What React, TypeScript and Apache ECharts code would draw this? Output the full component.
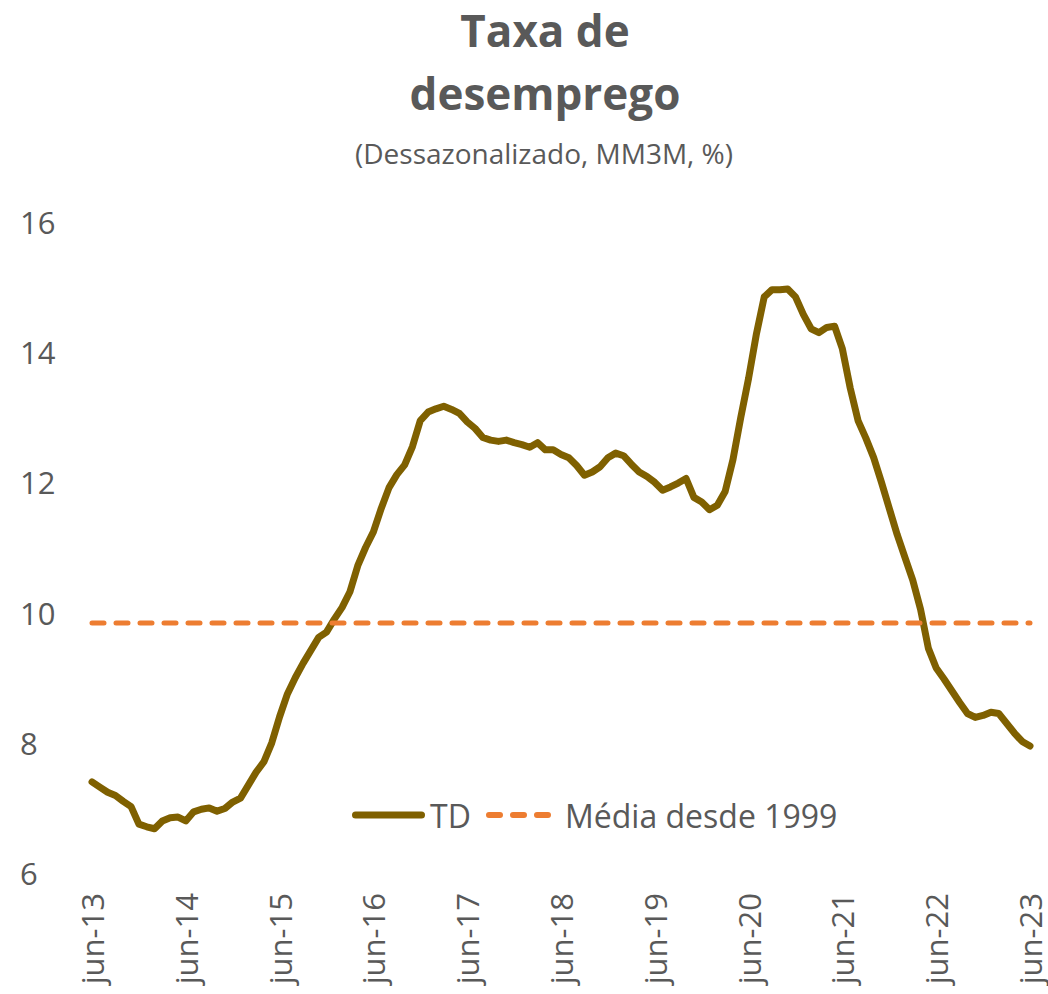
import React, { useEffect, useRef } from "react";
import * as echarts from "echarts";

const MONTHS = ["jan", "fev", "mar", "abr", "mai", "jun", "jul", "ago", "set", "out", "nov", "dez"];
// monthly categories jun-13 .. jun-23
const categories: string[] = [];
for (let y = 13; y <= 23; y++) {
  for (let m = 0; m < 12; m++) {
    if ((y === 13 && m < 5) || (y === 23 && m > 5)) continue;
    categories.push(`${MONTHS[m]}-${y}`);
  }
}

const td = [
  7.40, 7.32, 7.24, 7.19, 7.10, 7.02, 6.75, 6.71, 6.68, 6.80, 6.85, 6.86,
  6.80, 6.94, 6.98, 7.00, 6.95, 6.99, 7.09, 7.15, 7.35, 7.55, 7.71, 8.00,
  8.40, 8.75, 9.00, 9.22, 9.42, 9.62, 9.70, 9.90, 10.08, 10.32, 10.72, 11.00,
  11.24, 11.60, 11.92, 12.12, 12.27, 12.55, 12.95, 13.08, 13.13, 13.17, 13.12, 13.06,
  12.93, 12.83, 12.69, 12.65, 12.63, 12.65, 12.61, 12.58, 12.54, 12.61, 12.50, 12.50,
  12.43, 12.38, 12.26, 12.11, 12.16, 12.24, 12.38, 12.45, 12.41, 12.28, 12.16, 12.09,
  12.00, 11.88, 11.93, 11.99, 12.06, 11.77, 11.70, 11.58, 11.65, 11.86, 12.35, 13.00,
  13.60, 14.28, 14.85, 14.96, 14.96, 14.97, 14.85, 14.58, 14.36, 14.30, 14.38, 14.40,
  14.05, 13.45, 12.95, 12.68, 12.38, 12.00, 11.60, 11.20, 10.85, 10.50, 10.05, 9.45,
  9.15, 8.98, 8.80, 8.62, 8.45, 8.39, 8.42, 8.47, 8.45, 8.30, 8.15, 8.02,
  7.95,
];

const MEDIA_DESDE_1999 = 9.84;
const media = categories.map(() => MEDIA_DESDE_1999);

const SERIES_NAMES = ["TD", "Média desde 1999"];
const yTicks = { min: 6, max: 16, interval: 2 };

const GRAY = "#595959";
const BROWN = "#7F6000";
const ORANGE = "#ED7D31";
const FONT = "'Open Sans', 'Noto Sans', sans-serif";

export default function App() {
  const ref = useRef<HTMLDivElement>(null);
  useEffect(() => {
    if (!ref.current) return;
    const chart = echarts.init(ref.current, undefined, { renderer: "svg" });
    const legendY = 815;
    chart.setOption({
      animation: false,
      backgroundColor: "#ffffff",
      textStyle: { fontFamily: FONT },
      title: [
        {
          text: "Taxa de\ndesemprego",
          left: 545,
          textAlign: "center",
          top: -2,
          padding: 0,
          textStyle: { fontSize: 44, fontWeight: "bold", color: GRAY, lineHeight: 63, fontFamily: FONT },
        },
        {
          text: "(Dessazonalizado, MM3M, %)",
          left: 544,
          textAlign: "center",
          top: 136,
          padding: 0,
          textStyle: { fontSize: 28, fontWeight: "normal", color: GRAY, lineHeight: 34, fontFamily: FONT },
        },
      ],
      graphic: [
        {
          type: "line",
          shape: { x1: 355.5, y1: legendY, x2: 421.5, y2: legendY },
          style: { stroke: BROWN, lineWidth: 7, lineCap: "round" },
        },
        {
          type: "text",
          x: 430,
          y: legendY,
          style: { text: SERIES_NAMES[0], fontSize: 32, fill: GRAY, fontFamily: FONT, verticalAlign: "middle" },
        },
        {
          type: "line",
          shape: { x1: 489, y1: legendY, x2: 548, y2: legendY },
          style: { stroke: ORANGE, lineWidth: 6, lineCap: "round", lineDash: [11, 13] },
        },
        {
          type: "text",
          x: 565,
          y: legendY,
          style: { text: SERIES_NAMES[1], fontSize: 32, fill: GRAY, fontFamily: FONT, verticalAlign: "middle" },
        },
      ],
      grid: { left: 92, right: 18, top: 222, bottom: 121, containLabel: false },
      xAxis: {
        type: "category",
        data: categories,
        boundaryGap: false,
        axisLine: { show: false },
        axisTick: { show: false },
        splitLine: { show: false },
        axisLabel: {
          rotate: 90,
          margin: 20,
          fontSize: 31,
          color: GRAY,
          fontFamily: FONT,
          interval: (i: number) => i % 12 === 0,
        },
      },
      yAxis: {
        type: "value",
        min: yTicks.min,
        max: yTicks.max,
        interval: yTicks.interval,
        axisLine: { show: false },
        axisTick: { show: false },
        splitLine: { show: false },
        axisLabel: { fontSize: 31, color: GRAY, align: "left", margin: 72, fontFamily: FONT },
      },
      series: [
        {
          name: SERIES_NAMES[0],
          type: "line",
          data: td,
          symbol: "none",
          lineStyle: { color: BROWN, width: 7, join: "round", cap: "round" },
          itemStyle: { color: BROWN },
        },
        {
          name: SERIES_NAMES[1],
          type: "line",
          data: media,
          symbol: "none",
          lineStyle: { color: ORANGE, width: 5, type: [12, 12], cap: "round" },
          itemStyle: { color: ORANGE },
        },
      ],
    });
    return () => chart.dispose();
  }, []);
  return <div ref={ref} style={{ width: 1048, height: 994, position: "absolute", left: 0, top: 0 }} />;
}
